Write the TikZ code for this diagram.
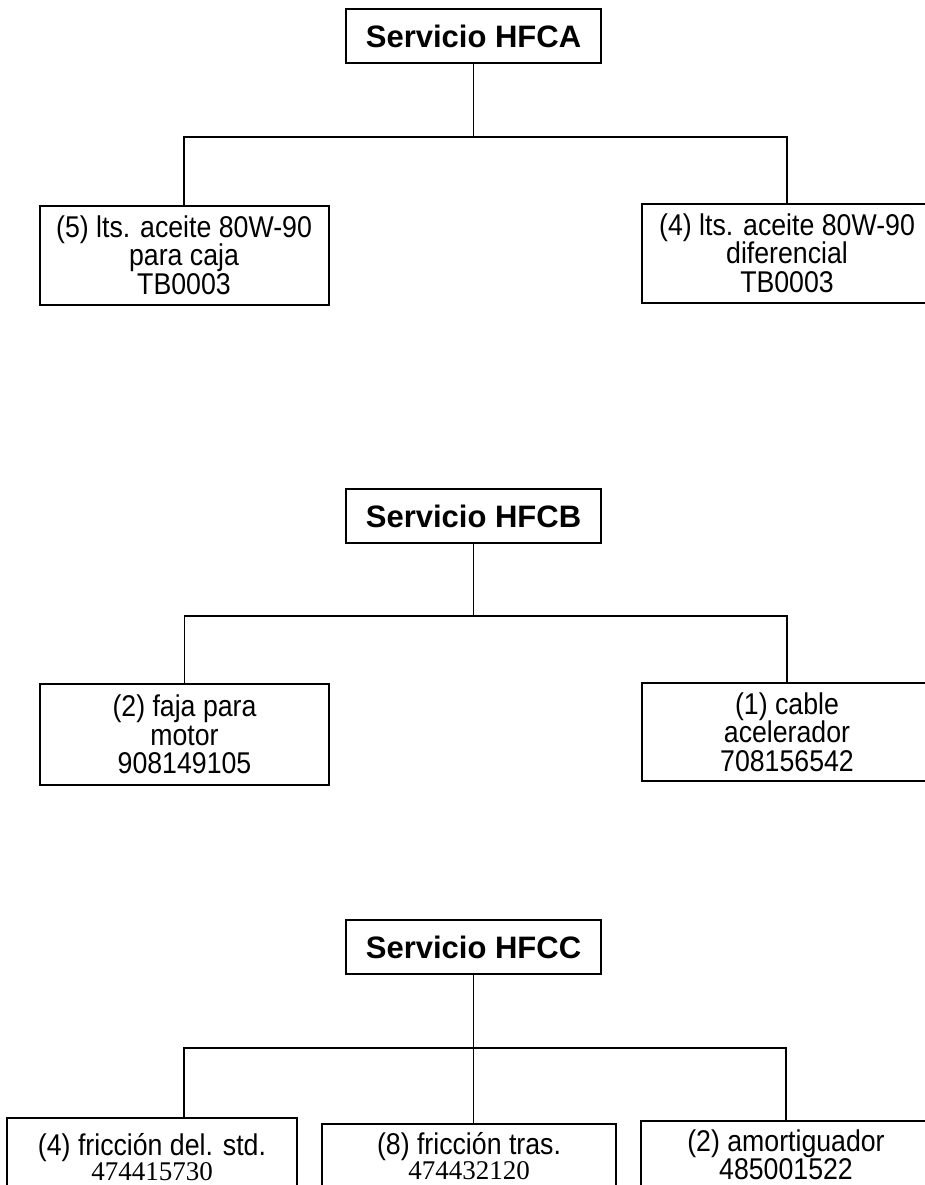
\documentclass[tikz,border=0pt]{standalone}
\usepackage{fontspec}
\setmainfont{Liberation Sans}
\newfontfamily\narrowsans[FakeStretch=0.89]{Liberation Sans}
\newfontfamily\serifnum{Liberation Serif}

\begin{document}
\begin{tikzpicture}[
  x=1pt, y=-1pt,
  titulo/.style={draw, line width=2pt, inner sep=0pt,
                 minimum width=255pt, minimum height=54pt,
                 font=\bfseries\fontsize{31}{34}\selectfont},
  item/.style={draw, line width=2pt, inner sep=0pt,
               minimum width=289pt, minimum height=99pt,
               align=center, font=\narrowsans\fontsize{30}{28.5}\selectfont},
  itembajo/.style={item, font=\narrowsans\fontsize{30}{25}\selectfont},
  link/.style={line width=1.8pt}
]
\useasboundingbox (0,0) rectangle (925,1185);

%% --- Servicio HFCA --------------------------------------------
\node[titulo] (hfca) at (473.5,36) {Servicio HFCA};

\node[item] (aceiteCaja) at (184,255)
     {(5) lts. aceite 80W-90\\para caja\\TB0003};
\node[item, minimum width=290pt] (aceiteDif) at (787,253)
     {(4) lts. aceite 80W-90\\diferencial\\TB0003};

\draw[link] (hfca.south) -- ++(0,73) coordinate (busA) -| (aceiteCaja.north);
\draw[link] (busA) -| (aceiteDif.north);

%% --- Servicio HFCB --------------------------------------------
\node[titulo] (hfcb) at (473.5,516) {Servicio HFCB};

\node[item, minimum height=101pt] (faja) at (184.5,734.5)
     {(2) faja para\\motor\\908149105};
\node[item, minimum width=290pt, minimum height=98pt] (cable) at (787,732)
     {(1) cable\\acelerador\\708156542};

\draw[link] (hfcb.south) -- ++(0,72) coordinate (busB) -| (faja.north);
\draw[link] (busB) -| (cable.north);

%% --- Servicio HFCC --------------------------------------------
\node[titulo] (hfcc) at (473.5,947) {Servicio HFCC};

\node[itembajo, minimum width=290pt, minimum height=78pt] (friccionDel) at (152,1157)
     {(4) fricción del. std.\\{\serifnum\fontsize{27}{25}\selectfont 474415730}};
\node[itembajo, minimum width=294pt, minimum height=64pt] (friccionTras) at (469,1156)
     {(8) fricción tras.\\{\serifnum\fontsize{27}{25}\selectfont 474432120}};
\node[itembajo, minimum width=290pt, minimum height=68pt] (amortiguador) at (786,1155)
     {(2) amortiguador\\485001522};

\draw[link] (hfcc.south) -- ++(0,73) coordinate (busC)
  -| ([xshift=32pt]friccionDel.north);
\draw[link] (busC) -- (busC |- friccionTras.north);
\draw[link] (busC) -| (amortiguador.north);

\end{tikzpicture}
\end{document}
